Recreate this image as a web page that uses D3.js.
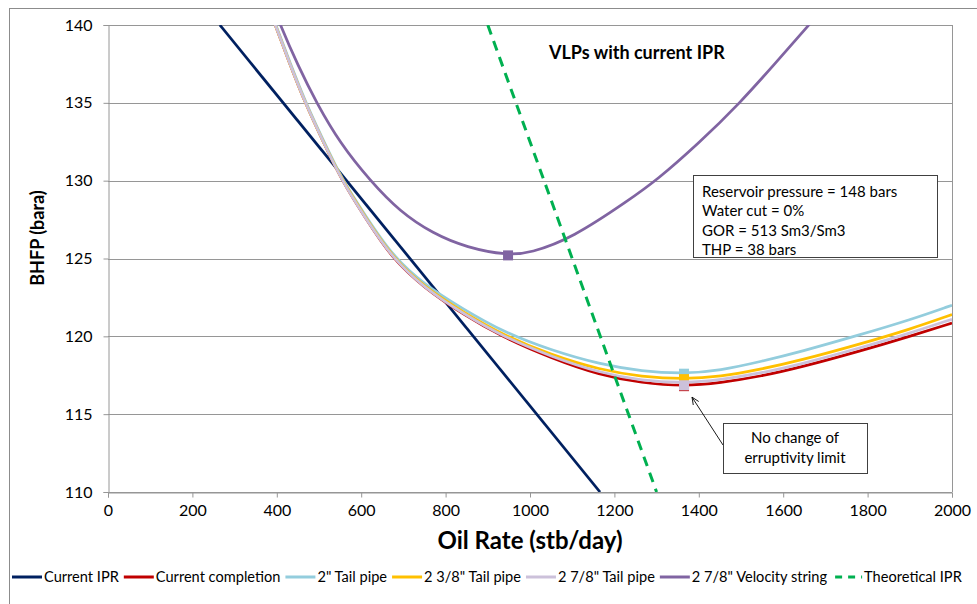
<!DOCTYPE html>
<html>
<head>
<meta charset="utf-8">
<script src="https://cdn.jsdelivr.net/npm/d3@7"></script>
<style>
  body { margin: 0; background: #fff; }
  svg text { font-family: Lato, "Open Sans", sans-serif; fill: #000; }
</style>
</head>
<body>
<div id="chart"></div>
<script>
// chart size
const width = 977;
const height = 604;
const margin = {top: 25, right: 25, bottom: 112, left: 108};

// data (oil rate in stb/day, BHFP in bara)
const seriesNames = ["Current IPR", "Current completion", "2\" Tail pipe", "2 3/8\" Tail pipe", "2 7/8\" Tail pipe", "2 7/8\" Velocity string", "Theoretical IPR"];

const qCurrentIPR = [265, 1166];
const pCurrentIPR = [140, 110];

const qVLP = [370, 396, 431, 467, 510, 554, 610, 673, 750, 842, 935, 1050, 1166, 1265, 1365, 1450, 1550, 1640, 1782, 1900, 2000];
const pCurrentCompletion = [142.0, 140, 137.5, 135, 132.5, 130, 127.6, 125.0, 123.1, 121.4, 119.95, 118.6, 117.5, 117.0, 116.8, 117.0, 117.45, 118.0, 119.05, 120.0, 120.85];
const pTail2 = [142.1, 140.1, 137.6, 135.1, 132.6, 130.1, 127.75, 125.2, 123.3, 121.75, 120.3, 119.1, 118.2, 117.75, 117.6, 117.8, 118.4, 119.0, 120.1, 121.05, 122.0];
const pTail238 = [142.0, 140, 137.5, 135, 132.5, 130.05, 127.65, 125.1, 123.15, 121.55, 120.1, 118.8, 117.85, 117.4, 117.25, 117.4, 117.9, 118.45, 119.5, 120.45, 121.4];
const pTail278 = [142.0, 140, 137.5, 135, 132.5, 130, 127.6, 125.05, 123.1, 121.45, 120.0, 118.7, 117.65, 117.15, 117.0, 117.2, 117.65, 118.2, 119.25, 120.2, 121.1];

const qVelocity = [380, 408, 450, 494, 550, 621, 692, 770, 850, 948, 1000, 1100, 1237, 1299, 1400, 1498, 1580, 1661, 1720];
const pVelocity = [142.0, 140, 137.4, 135, 132.4, 130, 128.0, 126.6, 125.7, 125.2, 125.35, 126.3, 128.8, 130, 132.4, 135, 137.5, 140, 141.9];

const qTheoretical = [900, 1300];
const pTheoretical = [140, 110];

// limit (minimum) markers: rate, pressure per series
const markerQ = [null, 1365, 1365, 1365, 1365, 948, null];
const markerP = [null, 116.8, 117.6, 117.25, 116.85, 125.2, null];

const colors = ["#002060", "#C00000", "#93CDDD", "#FFC000", "#CCC1DA", "#8064A2", "#00B050"];

const xTicks = [0, 200, 400, 600, 800, 1000, 1200, 1400, 1600, 1800, 2000];
const yTicks = [110, 115, 120, 125, 130, 135, 140];

const infoLines = ["Reservoir pressure = 148 bars", "Water cut = 0%", "GOR = 513 Sm3/Sm3", "THP = 38 bars"];
const noteLines = ["No change of", "erruptivity limit"];

const series = [
  {q: qCurrentIPR, p: pCurrentIPR},
  {q: qVLP, p: pCurrentCompletion},
  {q: qVLP, p: pTail2},
  {q: qVLP, p: pTail238},
  {q: qVLP, p: pTail278},
  {q: qVelocity, p: pVelocity},
  {q: qTheoretical, p: pTheoretical}
].map((s, i) => ({
  name: seriesNames[i],
  color: colors[i],
  dashed: i === 6,
  values: s.q.map((q, j) => ({q: q, p: s.p[j]})),
  marker: markerQ[i] === null ? null : {q: markerQ[i], p: markerP[i]}
}));

const svg = d3.select("#chart")
  .append("svg")
  .attr("width", width)
  .attr("height", height);

// outer chart frame
svg.append("rect")
  .attr("x", 9.5).attr("y", 8.5)
  .attr("width", 1000).attr("height", 700)
  .attr("fill", "none")
  .attr("stroke", "#8c8c8c");

const x = d3.scaleLinear().domain([0, 2000]).range([margin.left, width - margin.right]);
const y = d3.scaleLinear().domain([110, 140]).range([height - margin.bottom, margin.top]);

// gridlines
svg.append("g")
  .selectAll("line")
  .data(yTicks)
  .join("line")
  .attr("x1", x(0)).attr("x2", x(2000))
  .attr("y1", d => Math.round(y(d)) + 0.5).attr("y2", d => Math.round(y(d)) + 0.5)
  .attr("stroke", "#969696");

// right border of plot area
svg.append("line")
  .attr("x1", Math.round(x(2000)) + 0.5).attr("x2", Math.round(x(2000)) + 0.5)
  .attr("y1", y(140)).attr("y2", y(110))
  .attr("stroke", "#969696");

// axes
const xAxis = svg.append("g")
  .attr("transform", `translate(0,${Math.round(y(110)) + 0.5})`)
  .call(d3.axisBottom(x).tickValues(xTicks).tickSize(5).tickPadding(7).tickFormat(d3.format("d")));
const yAxis = svg.append("g")
  .attr("transform", `translate(${Math.round(x(0)) + 0.5},0)`)
  .call(d3.axisLeft(y).tickValues(yTicks).tickSize(5).tickPadding(11).tickFormat(d3.format("d")));

[xAxis, yAxis].forEach(a => {
  a.select(".domain").attr("stroke", "#969696");
  a.selectAll(".tick line").attr("stroke", "#969696");
  a.selectAll(".tick text").style("font-size", "16px").attr("fill", "#000");
});

// axis titles
svg.append("text")
  .attr("x", (x(0) + x(2000)) / 2)
  .attr("y", 549)
  .attr("text-anchor", "middle")
  .style("font-size", "24px")
  .style("font-weight", "bold")
  .text("Oil Rate (stb/day)");

svg.append("text")
  .attr("transform", "translate(44,238) rotate(-90)")
  .attr("text-anchor", "middle")
  .style("font-size", "18px")
  .style("font-weight", "bold")
  .text("BHFP (bara)");

// chart title
svg.append("text")
  .attr("x", 549)
  .attr("y", 59)
  .style("font-size", "18px")
  .style("font-weight", "bold")
  .text("VLPs with current IPR");

// clip the curves to the plot area
svg.append("clipPath")
  .attr("id", "plot-clip")
  .append("rect")
  .attr("x", x(0)).attr("y", y(140))
  .attr("width", x(2000) - x(0)).attr("height", y(110) - y(140));

const line = d3.line()
  .x(d => x(d.q))
  .y(d => y(d.p))
  .curve(d3.curveBasis);

const plot = svg.append("g").attr("clip-path", "url(#plot-clip)");

series.forEach(s => {
  plot.append("path")
    .datum(s.values)
    .attr("d", line)
    .attr("fill", "none")
    .attr("stroke", s.color)
    .attr("stroke-width", s.dashed ? 3 : 2.75)
    .attr("stroke-dasharray", s.dashed ? "10,7" : null);
  if (s.marker) {
    plot.append("rect")
      .attr("x", x(s.marker.q) - 5)
      .attr("y", y(s.marker.p) - 5)
      .attr("width", 10).attr("height", 10)
      .attr("fill", s.color);
  }
});

// info text box
const info = svg.append("g");
info.append("rect")
  .attr("x", 693.5).attr("y", 175.5)
  .attr("width", 244).attr("height", 82)
  .attr("fill", "#fff")
  .attr("stroke", "#404040");
info.selectAll("text")
  .data(infoLines)
  .join("text")
  .attr("x", 702)
  .attr("y", (d, i) => 197 + i * 19.3)
  .style("font-size", "15px")
  .text(d => d);

// note box with arrow
svg.append("defs").append("marker")
  .attr("id", "arrow-open")
  .attr("viewBox", "0 0 10 10")
  .attr("refX", 9).attr("refY", 5)
  .attr("markerWidth", 9).attr("markerHeight", 9)
  .attr("orient", "auto")
  .append("path")
  .attr("d", "M0,1 L9,5 L0,9")
  .attr("fill", "none")
  .attr("stroke", "#000")
  .attr("stroke-width", 1);

svg.append("line")
  .attr("x1", 723).attr("y1", 445)
  .attr("x2", x(1365) + 8).attr("y2", y(116.8) + 11)
  .attr("stroke", "#000")
  .attr("stroke-width", 0.9)
  .attr("marker-end", "url(#arrow-open)");

const note = svg.append("g");
note.append("rect")
  .attr("x", 723.5).attr("y", 423.5)
  .attr("width", 144).attr("height", 50)
  .attr("fill", "#fff")
  .attr("stroke", "#404040");
note.selectAll("text")
  .data(noteLines)
  .join("text")
  .attr("x", 795)
  .attr("y", (d, i) => 443 + i * 20)
  .attr("text-anchor", "middle")
  .style("font-size", "15px")
  .text(d => d);

// legend
const legend = svg.append("g").attr("transform", "translate(12,577)");
let lx = 0;
series.forEach(s => {
  const item = legend.append("g").attr("transform", `translate(${lx},0)`);
  item.append("line")
    .attr("x1", 0).attr("x2", 30)
    .attr("y1", 0).attr("y2", 0)
    .attr("stroke", s.color)
    .attr("stroke-width", 3)
    .attr("stroke-dasharray", s.dashed ? "7,6" : null)
    .attr("stroke-dashoffset", s.dashed ? -3 : 0);
  const t = item.append("text")
    .attr("x", 32)
    .attr("y", 5)
    .style("font-size", "14.6px")
    .text(s.name);
  lx += 32 + t.node().getComputedTextLength() + 5;
});
</script>
</body>
</html>
